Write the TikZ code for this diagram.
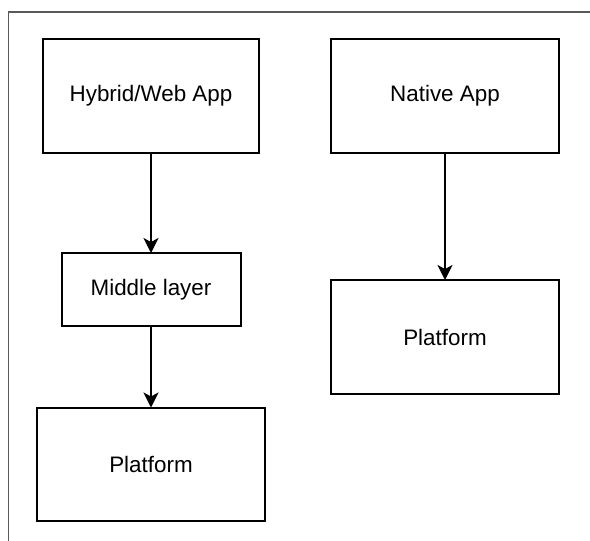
\documentclass[tikz,border=0pt]{standalone}
\usepackage{fontspec}
\setmainfont{Liberation Sans}
\usetikzlibrary{arrows.meta}

\tikzset{
	appbox/.style={draw, line width=2pt, minimum width=#1, inner sep=0pt, outer sep=0pt, font=\fontsize{22.4}{27}\selectfont},
	flow/.style={line width=1.8pt, -{Stealth[length=15pt,width=15pt,inset=4pt]}},
}

\begin{document}
\begin{tikzpicture}[x=1pt,y=-1pt]
	\useasboundingbox (0,0) rectangle (590,541);
	\draw[line width=1.4pt, black!65] (8.5,541) -- (8.5,12) -- (590,12);
	\node[appbox=216pt, minimum height=114pt] (hybrid) at (151,96) {Hybrid/Web App};
	\node[appbox=228pt, minimum height=114pt] (native) at (445,96) {Native App};
	\node[appbox=179pt, minimum height=73pt] (middle) at (151,289.5) {Middle layer};
	\node[appbox=228pt, minimum height=114pt] (platR) at (445,337) {Platform};
	\node[appbox=228pt, minimum height=113pt] (platL) at (151,464) {Platform};
	\draw[flow] (hybrid) -- (middle);
	\draw[flow] (middle) -- (platL);
	\draw[flow] (native) -- (platR);
	\end{tikzpicture}
\end{document}
